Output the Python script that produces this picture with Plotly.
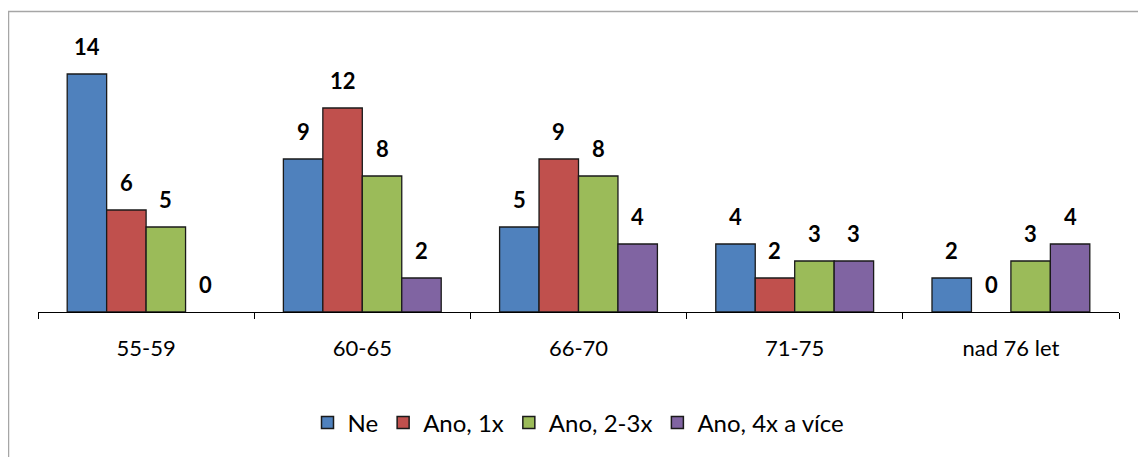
import plotly.graph_objects as go

categories = ["55-59", "60-65", "66-70", "71-75", "nad 76 let"]
series_names = ["Ne", "Ano, 1x", "Ano, 2-3x", "Ano, 4x a více"]
ne = [14, 9, 5, 4, 2]
ano_1x = [6, 12, 9, 2, 0]
ano_23x = [5, 8, 8, 3, 3]
ano_4x = [0, 2, 4, 3, 4]
colors = ["#4F81BD", "#C0504D", "#9BBB59", "#8064A2"]

OFF = 8  # default body margin of the html page
W, H = 1146 - OFF, 457 - OFF
L, R, T, B = 38 - OFF, 1119 - OFF, 40 - OFF, 312 - OFF
FONT = "Lato, 'Open Sans', sans-serif"
BARGAP = 0.27

all_series = [ne, ano_1x, ano_23x, ano_4x]

fig = go.Figure()
for name, vals, col in zip(series_names, all_series, colors):
    fig.add_trace(go.Bar(
        x=categories, y=vals, name=name, offsetgroup=name, showlegend=False,
        marker=dict(color=col, line=dict(color="#1a1a1a",
                                         width=[1.3 if v else 0 for v in vals])),
        cliponaxis=False,
    ))
    # legend entry (same offset group, no visible bar)
    fig.add_trace(go.Bar(
        x=[categories[0]], y=[None], name=name, offsetgroup=name, showlegend=True,
        marker=dict(color=col, line=dict(color="#1a1a1a", width=1.5)),
    ))

pw = R - L
ph = B - T
def px(x):
    return (x - OFF - L) / pw
def py(y):
    return (B - (y - OFF)) / ph

# data labels as annotations above each bar
cat_w = pw / len(categories)
bar_w = cat_w * (1 - BARGAP) / len(all_series)
annotations = []
for i, vals in enumerate(all_series):
    shift = (i - (len(all_series) - 1) / 2) * bar_w
    for cat, v in zip(categories, vals):
        annotations.append(dict(
            x=cat, y=v, xref="x", yref="y", text=str(v), showarrow=False,
            xshift=shift, yshift=12, yanchor="bottom", xanchor="center",
            font=dict(family=FONT, size=22, color="#000000", weight="bold"),
        ))

fig.update_layout(
    width=W, height=H,
    margin=dict(l=L, r=W - R, t=T, b=H - B, autoexpand=False),
    paper_bgcolor="white", plot_bgcolor="white",
    barmode="group", bargap=BARGAP, bargroupgap=0,
    showlegend=True,
    legend=dict(orientation="h", x=0.5, xanchor="center", y=py(423), yanchor="middle",
                font=dict(family=FONT, size=24, color="#000000"),
                itemwidth=30, traceorder="normal"),
    font=dict(family=FONT, size=22, color="#000000"),
    xaxis=dict(showline=True, linecolor="#000000", linewidth=1.3, ticks="outside",
               tickcolor="#000000", ticklen=6, tickson="boundaries", ticklabelstandoff=16,
               tickfont=dict(family=FONT, size=22, color="#000000"), showgrid=False),
    yaxis=dict(range=[0, 16], visible=False, showgrid=False, zeroline=False),
    annotations=annotations,
    shapes=[
        dict(type="line", xref="paper", yref="paper", x0=px(8), x1=px(1146), y0=py(11.5), y1=py(11.5),
             line=dict(color="#A6A6A6", width=1.5)),
        dict(type="line", xref="paper", yref="paper", x0=px(8.5), x1=px(8.5), y0=py(11), y1=py(457),
             line=dict(color="#A6A6A6", width=1.5)),
    ],
)

fig.write_html("out.html")
